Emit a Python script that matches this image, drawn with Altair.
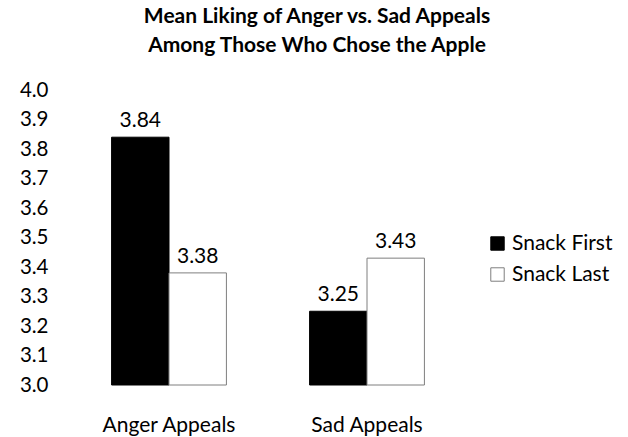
import altair as alt
import pandas as pd

# Mean liking scores by appeal type and snack timing
appeals = ["Anger Appeals", "Anger Appeals", "Sad Appeals", "Sad Appeals"]
timing = ["Snack First", "Snack Last", "Snack First", "Snack Last"]
liking = [3.84, 3.38, 3.25, 3.43]
y_ticks = [3.0, 3.1, 3.2, 3.3, 3.4, 3.5, 3.6, 3.7, 3.8, 3.9, 4.0]

df = pd.DataFrame({"appeal": appeals, "timing": timing, "liking": liking})

FONT = "Lato"
FS = 21
timing_order = ["Snack First", "Snack Last"]

x_enc = alt.X(
    "appeal:N",
    title=None,
    scale=alt.Scale(paddingInner=0.42, paddingOuter=0.21),
    axis=alt.Axis(labelAngle=0, domain=False, ticks=False, labelPadding=29,
                  labelFontSize=FS, labelFont=FONT, labelColor="black"),
)
y_enc = alt.Y(
    "liking:Q",
    title=None,
    scale=alt.Scale(domain=[3.0, 4.0], nice=False, zero=False),
    axis=alt.Axis(values=y_ticks, format=".1f", domain=False, ticks=False,
                  grid=False, labelPadding=22, labelFontSize=20.5,
                  labelFont=FONT, labelColor="black"),
)

bars = alt.Chart(df).mark_bar(strokeWidth=1).encode(
    x=x_enc,
    xOffset=alt.XOffset("timing:N", sort=timing_order),
    y=y_enc,
    y2=alt.datum(3.0),
    fill=alt.Fill(
        "timing:N",
        sort=timing_order,
        scale=alt.Scale(domain=timing_order, range=["black", "white"]),
        legend=alt.Legend(
            title=None, orient="none", legendX=417, legendY=143,
            symbolType="square", symbolSize=180, symbolStrokeColor="#555555",
            symbolStrokeWidth=1, labelFontSize=FS, labelFont=FONT,
            labelColor="black", rowPadding=9, labelOffset=4,
        ),
    ),
    stroke=alt.Stroke(
        "timing:N",
        sort=timing_order,
        scale=alt.Scale(domain=timing_order, range=["black", "#7f7f7f"]),
        legend=None,
    ),
)

labels = alt.Chart(df).mark_text(
    baseline="bottom", dy=-6, fontSize=FS, font=FONT, color="black"
).encode(
    x=x_enc,
    xOffset=alt.XOffset("timing:N", sort=timing_order),
    y=y_enc,
    text=alt.Text("liking:Q", format=".2f"),
)

chart = (
    alt.layer(bars, labels)
    .properties(
        width=396,
        height=295,
        background="white",
        title=alt.TitleParams(
            ["Mean Liking of Anger vs. Sad Appeals", "Among Those Who Chose the Apple"],
            fontSize=FS, font=FONT, fontWeight="bold", color="black",
            anchor="middle", dx=49, offset=24, lineHeight=29,
        ),
        padding={"left": 70, "top": 90, "right": 162, "bottom": 52},
        autosize=alt.AutoSizeParams(type="none"),
    )
    .configure_view(strokeWidth=0)
)

chart.save("out.html", embed_options={"renderer": "svg", "actions": False})
